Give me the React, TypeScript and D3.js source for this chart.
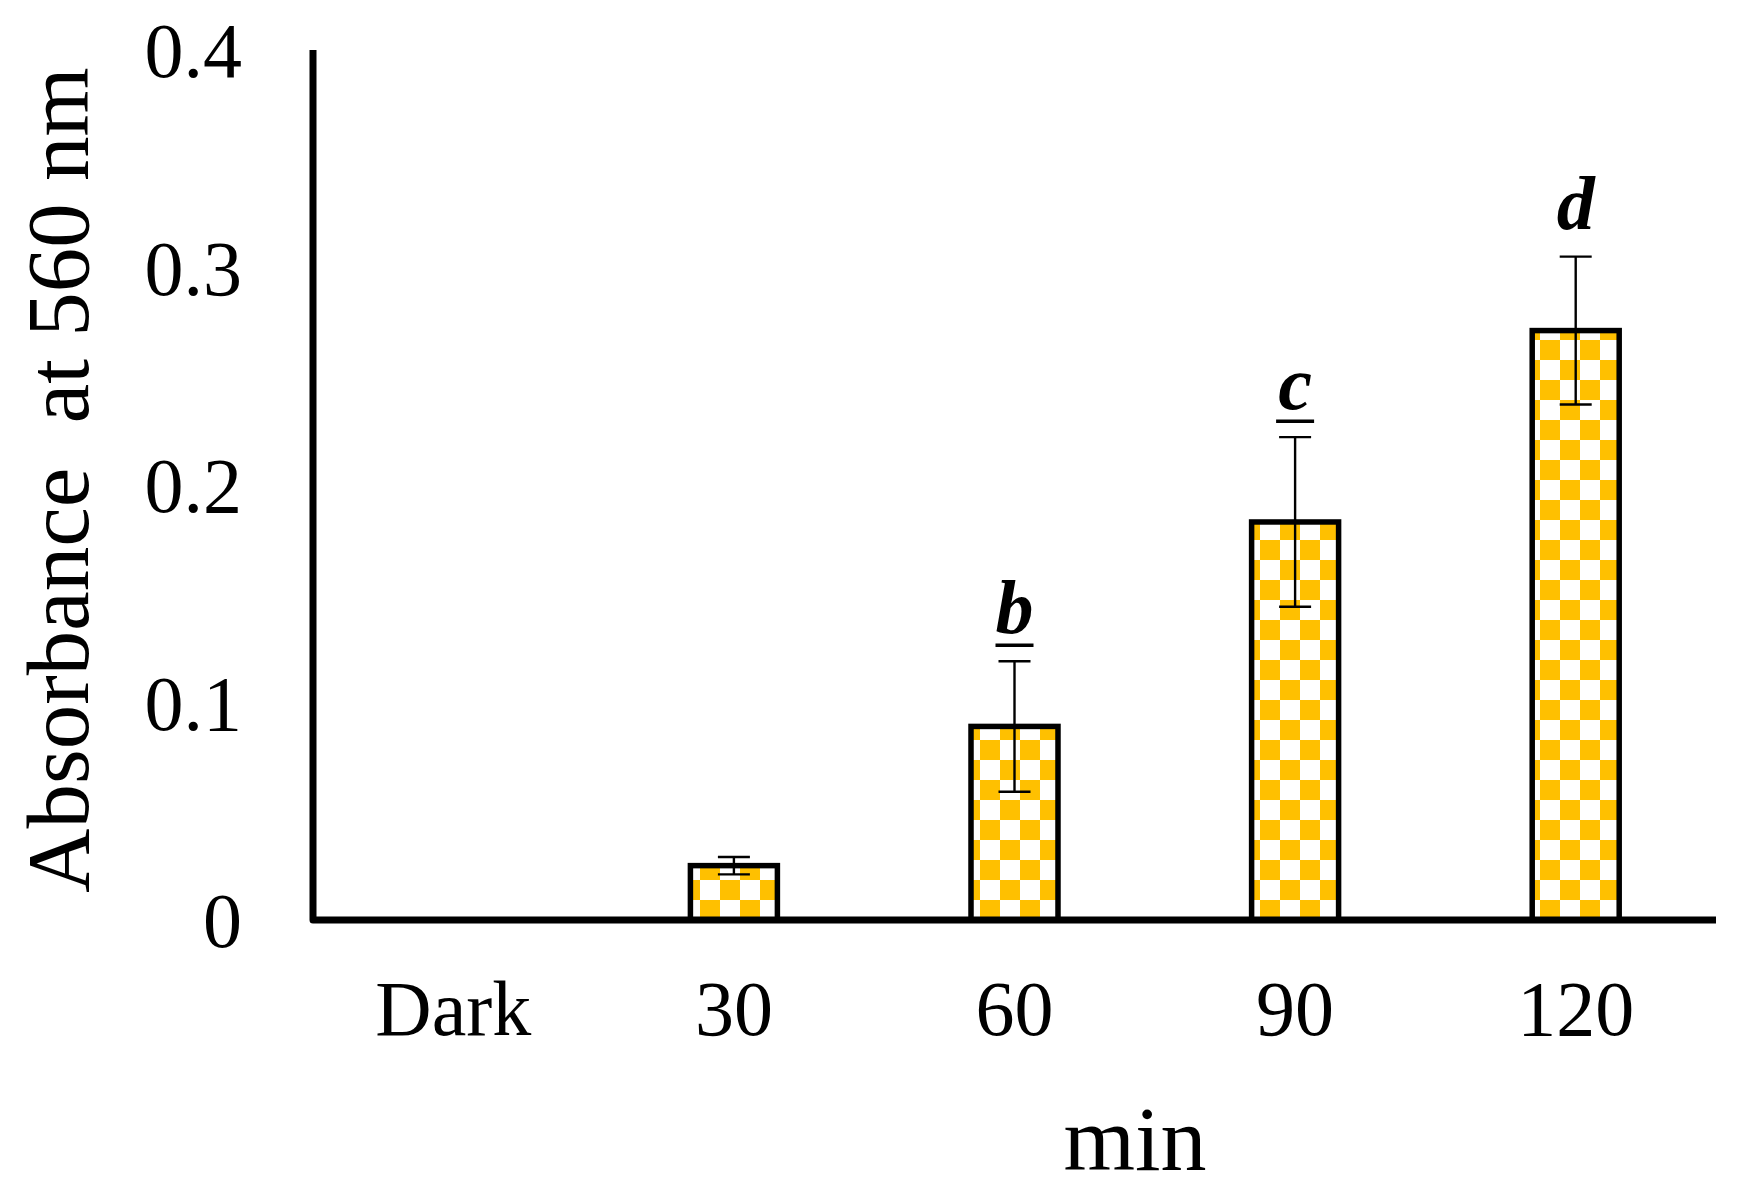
import React from "react";
import * as d3 from "d3";

const categories = ["Dark", "30", "60", "90", "120"];
const values = [0, 0.025, 0.089, 0.183, 0.271];
const errors = [0, 0.004, 0.030, 0.039, 0.034];
const letters = ["", "", "b", "c", "d"];
const underlined = [false, false, true, true, false];
const yTicks = [0, 0.1, 0.2, 0.3, 0.4];
const yTitle = "Absorbance\u00a0\u00a0at 560 nm";
const xTitle = "min";

const W = 1746;
const H = 1193;
const FONT = "'Liberation Serif', 'Times New Roman', serif";
const GOLD = "#FFC000";

export default function App() {
  const x = d3
    .scaleBand<string>()
    .domain(categories)
    .range([313, 1716])
    .paddingInner(0.69)
    .paddingOuter(0.345);
  const y = d3.scaleLinear().domain([0, 0.4]).range([920, 50]);
  const bw = x.bandwidth();
  const fmt = (v: number) => (v === 0 ? "0" : d3.format(".1f")(v));

  return (
    <svg
      width={W}
      height={H}
      viewBox={`0 0 ${W} ${H}`}
      style={{ position: "absolute", left: 0, top: 0, background: "#fff" }}
    >
      <defs>
        <pattern id="checker" patternUnits="userSpaceOnUse" width={40} height={40}>
          <rect width={40} height={40} fill="#fff" />
          <rect x={0} y={0} width={20} height={20} fill={GOLD} />
          <rect x={20} y={20} width={20} height={20} fill={GOLD} />
        </pattern>
      </defs>
      <rect width={W} height={H} fill="#fff" />

      {/* bars */}
      {categories.map((c, i) => {
        if (values[i] <= 0) return null;
        const x0 = x(c)!;
        const yt = y(values[i]);
        return (
          <rect
            key={"bar" + c}
            x={x0}
            y={yt}
            width={bw}
            height={y(0) - yt}
            fill="url(#checker)"
            stroke="#000"
            strokeWidth={5.5}
          />
        );
      })}

      {/* error bars */}
      {categories.map((c, i) => {
        if (values[i] <= 0) return null;
        const cx = x(c)! + bw / 2;
        const yHi = y(values[i] + errors[i]);
        const yLo = y(values[i] - errors[i]);
        const cap = 16;
        return (
          <g key={"err" + c} stroke="#000" strokeWidth={2.4}>
            <line x1={cx} x2={cx} y1={yHi} y2={yLo} />
            <line x1={cx - cap} x2={cx + cap} y1={yHi} y2={yHi} />
            <line x1={cx - cap} x2={cx + cap} y1={yLo} y2={yLo} />
          </g>
        );
      })}

      {/* significance letters */}
      {categories.map((c, i) => {
        if (!letters[i]) return null;
        const cx = x(c)! + bw / 2;
        const base = y(values[i] + errors[i]) - 28;
        return (
          <g key={"let" + c}>
            <text
              x={cx}
              y={base}
              textAnchor="middle"
              fontFamily={FONT}
              fontStyle="italic"
              fontWeight="bold"
              fontSize={76}
              fill="#000"
            >
              {letters[i]}
            </text>
            {underlined[i] && (
              <line
                x1={cx - 19}
                x2={cx + 19}
                y1={base + 12}
                y2={base + 12}
                stroke="#000"
                strokeWidth={3.5}
              />
            )}
          </g>
        );
      })}

      {/* axes */}
      <path
        d={`M${x.range()[0]},${y(0.4)} L${x.range()[0]},${y(0)} L${x.range()[1]},${y(0)}`}
        fill="none"
        stroke="#000"
        strokeWidth={7}
        strokeLinejoin="round"
      />

      {/* y tick labels */}
      {yTicks.map((t) => (
        <text
          key={"yt" + t}
          x={242}
          y={y(t) + 27}
          textAnchor="end"
          fontFamily={FONT}
          fontSize={78}
          fill="#000"
        >
          {fmt(t)}
        </text>
      ))}

      {/* x tick labels */}
      {categories.map((c) => (
        <text
          key={"xt" + c}
          x={x(c)! + bw / 2}
          y={1035}
          textAnchor="middle"
          fontFamily={FONT}
          fontSize={78}
          fill="#000"
        >
          {c}
        </text>
      ))}

      {/* axis titles */}
      <text
        x={1135}
        y={1170}
        textAnchor="middle"
        fontFamily={FONT}
        fontSize={92}
        fill="#000"
      >
        {xTitle}
      </text>
      <text
        transform={`translate(88, ${(69 + 891) / 2}) rotate(-90)`}
        textAnchor="middle"
        fontFamily={FONT}
        fontSize={89}
        fill="#000"
      >
        {yTitle}
      </text>
    </svg>
  );
}
